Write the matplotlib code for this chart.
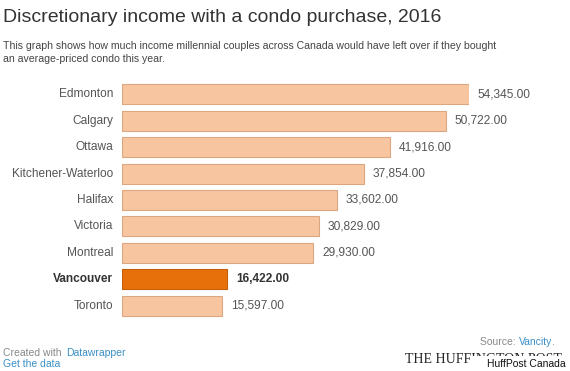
import matplotlib

matplotlib.use("Agg")
import matplotlib.pyplot as plt  # noqa: E402
from matplotlib.patches import Rectangle  # noqa: E402

plt.rcParams["font.family"] = ["Liberation Sans", "DejaVu Sans"]

cities = ["Edmonton", "Calgary", "Ottawa", "Kitchener-Waterloo", "Halifax",
          "Victoria", "Montreal", "Vancouver", "Toronto"]
income = [54345, 50722, 41916, 37854, 33602, 30829, 29930, 16422, 15597]
highlight = "Vancouver"

W, H = 570, 371
fig = plt.figure(figsize=(W / 100, H / 100), dpi=100)

# axes in pixel coords: left edge of bars at 122, longest bar ends at 469
top, bottom = 81, 319
ax = fig.add_axes([122 / W, 1 - bottom / H, (469 - 122) / W, (bottom - top) / H])

ypos = list(range(len(cities)))
colors = ["#e8700a" if c == highlight else "#f7c59f" for c in cities]
edges = ["#c45e08" if c == highlight else "#dca77e" for c in cities]
ax.barh(ypos, income, height=0.76, color=colors, edgecolor=edges, linewidth=0.8)
ax.set_xlim(0, max(income))
ax.set_ylim(len(cities) - 0.5, -0.5)

pad = max(income) * 9 / 347   # ~9 px gap
for y, c, v in zip(ypos, cities, income):
    bold = c == highlight
    kw = dict(va="center", fontsize=8.6, clip_on=False,
              color="#333333" if bold else "#555555",
              fontweight="bold" if bold else "normal")
    ax.text(-pad, y, c, ha="right", **kw)
    ax.text(v + pad, y, f"{v:,.2f}", ha="left", **kw)

ax.axis("off")

fig.text(3 / W, 1 - 22 / H, "Discretionary income with a condo purchase, 2016",
         fontsize=14, color="#333333", va="baseline")
fig.text(3 / W, 1 - 49 / H,
         "This graph shows how much income millennial couples across Canada would have left over if they bought",
         fontsize=7.6, color="#444444", va="baseline")
fig.text(3 / W, 1 - 62 / H, "an average-priced condo this year.",
         fontsize=7.6, color="#444444", va="baseline")

# footer
fig.text(3 / W, 1 - 356 / H, "Created with ", fontsize=7.5, color="#888888", va="baseline")
fig.text(66 / W, 1 - 356 / H, "Datawrapper", fontsize=7.5, color="#3a8fc7", va="baseline")
fig.text(3 / W, 1 - 367 / H, "Get the data", fontsize=7.5, color="#3a8fc7", va="baseline")
fig.text(519 / W, 1 - 345 / H, "Source: ", fontsize=7.5, color="#888888",
         va="baseline", ha="right")
fig.text(519 / W, 1 - 345 / H, "Vancity", fontsize=7.5, color="#3a8fc7", va="baseline")
fig.text(552 / W, 1 - 345 / H, ".", fontsize=7.5, color="#888888", va="baseline")
# logo partly hidden under the "HuffPost Canada" credit, as in the original
fig.text(405 / W, 1 - 363 / H, "THE HUFFINGTON POST", fontsize=10, color="#222222",
         va="baseline", family=["Liberation Serif", "DejaVu Serif"])
fig.add_artist(Rectangle((470 / W, 0), 100 / W, 15 / H, transform=fig.transFigure,
                         facecolor="white", edgecolor="none", zorder=5))
fig.text(566 / W, 1 - 367 / H, "HuffPost Canada", fontsize=7.5, color="#111111",
         va="baseline", ha="right", zorder=6)

fig.savefig("out.png", dpi=100, facecolor="white")
